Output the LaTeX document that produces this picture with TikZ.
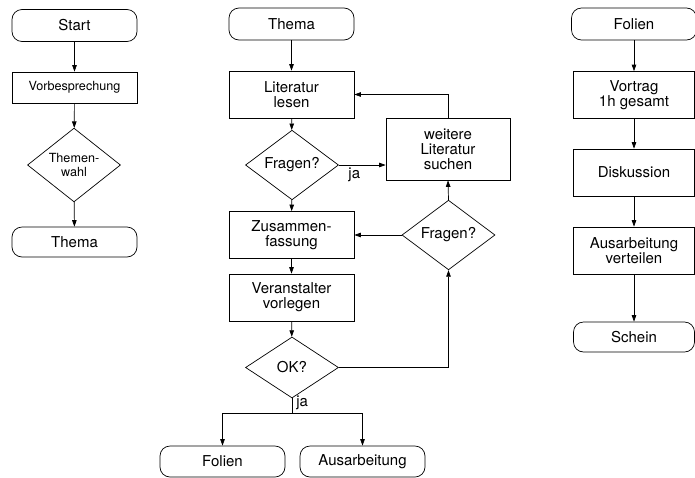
\documentclass[tikz,border=0pt]{standalone}
\usepackage{fontspec}
\setmainfont{TeX Gyre Heros}
\usetikzlibrary{shapes.geometric,arrows.meta}
\begin{document}
\begin{tikzpicture}[x=1pt,y=-1pt,
  every node/.style={font=\fontsize{15}{15}\selectfont, inner sep=0pt, align=center},
  term/.style={draw, rounded corners=10pt, minimum width=125pt, minimum height=32pt},
  proc/.style={draw, minimum width=125pt, minimum height=47pt},
  dec/.style={draw, diamond, minimum width=93pt, minimum height=60pt},
  small/.style={font=\fontsize{12.6}{14}\selectfont},
  arr/.style={-{Triangle[length=6.5pt,width=4.5pt]}},
  line width=0.7pt]
\useasboundingbox (0,0) rectangle (695,477);
% column 1
\node[term] (start) at (74.5,25.5) {Start};
\node[proc, small, minimum height=31pt] (vor) at (74.5,87.5) {Vorbesprechung};
\node[dec, small] (wahl) at (74,165) {Themen-\\wahl};
\node[term, minimum height=30pt] (thema1) at (74.5,242) {Thema};
\draw[arr] (start) -- (vor);
\draw[arr] (vor) -- (wahl);
\draw[arr] (wahl) -- (thema1);
% column 2
\node[term] (thema2) at (291.5,24) {Thema};
\node[proc] (lit) at (291.5,94.5) {Literatur\\lesen};
\node[dec] (f1) at (292,165) {Fragen?};
\node[proc, minimum width=124pt, minimum height=62pt] (weit) at (448,149) {weitere\\Literatur\\suchen};
\node[proc] (zus) at (291.5,235) {Zusammen-\\fassung};
\node[dec, minimum height=61pt] (f2) at (448.5,235) {Fragen?};
\node[proc] (ver) at (291.5,297.5) {Veranstalter\\vorlegen};
\node[dec, minimum height=61pt] (ok) at (292,367.5) {OK?};
\node[term, minimum height=31pt] (fol) at (222.5,461.5) {Folien};
\node[term, minimum height=31pt] (aus) at (362.5,461.5) {Ausarbeitung};
\coordinate (split) at (292,413);
\draw[arr] (thema2) -- (lit);
\draw[arr] (lit) -- (f1);
\draw[arr] (f1) -- (zus);
\draw[arr] (f1.east) -- (f1.east -| weit.west) node[pos=0.33, below=3pt] {ja};
\draw[arr] (weit.north) |- (lit.east);
\draw[arr] (f2.north) -- (weit.south);
\draw[arr] (f2.west) -- (zus.east);
\draw[arr] (zus) -- (ver);
\draw[arr] (ver) -- (ok);
\draw[arr] (ok.east) -| (f2.south);
\draw (ok.south) -- (split) node[pos=0.3, right=4pt] {ja};
\draw[arr] (split) -| (fol.north);
\draw[arr] (split) -| (aus.north);
% column 3
\node[term] (fol3) at (634,24) {Folien};
\node[proc, minimum width=121pt] (vort) at (634,95) {Vortrag\\1h gesamt};
\node[proc, minimum width=121pt] (disk) at (634,172.5) {Diskussion};
\node[proc, minimum width=121pt] (ausv) at (634,250.5) {Ausarbeitung\\verteilen};
\node[term, minimum width=121pt, minimum height=30pt] (sch) at (634,337) {Schein};
\draw[arr] (fol3) -- (vort);
\draw[arr] (vort) -- (disk);
\draw[arr] (disk) -- (ausv);
\draw[arr] (ausv) -- (sch);
\end{tikzpicture}
\end{document}
